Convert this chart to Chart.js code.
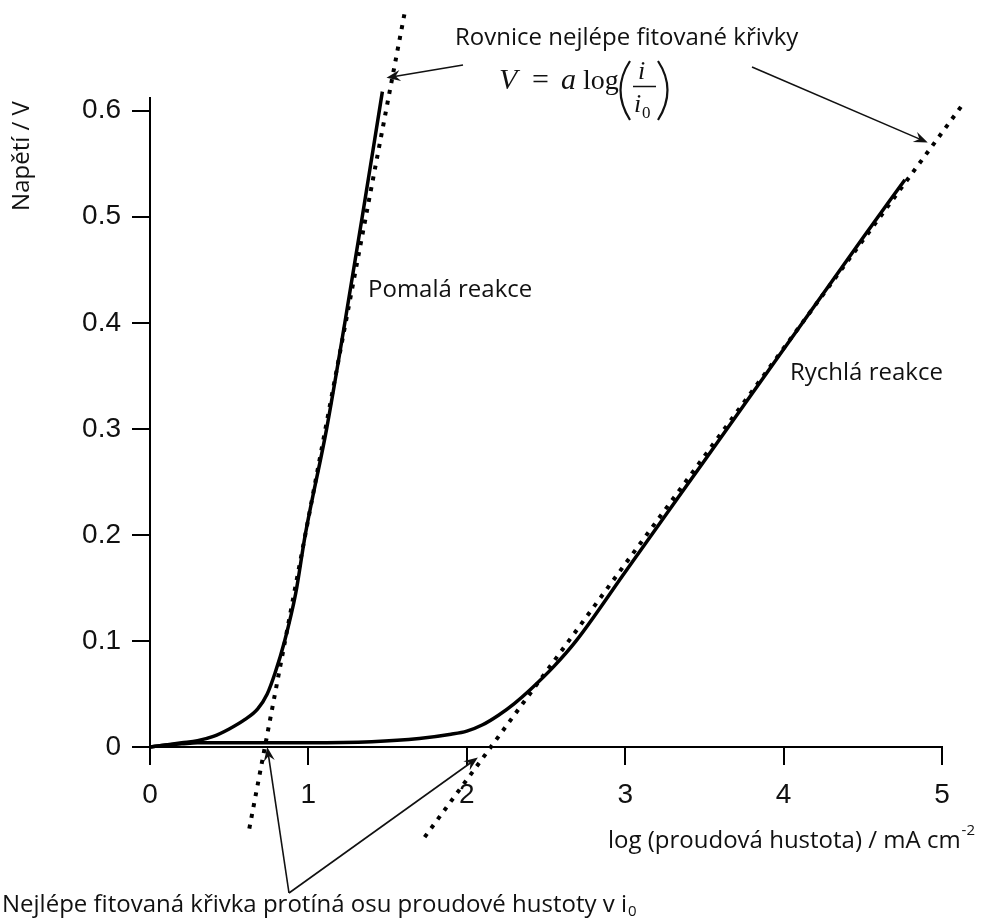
<!DOCTYPE html>
<html>
<head>
<meta charset="utf-8">
<script src="https://cdn.jsdelivr.net/npm/chart.js@4"></script>
<style>
  body { margin: 0; background: #fff; }
  canvas { display: block; }
</style>
</head>
<body>
<canvas id="tafel-chart" width="981" height="922"></canvas>
<script>
// log(current density) vs. voltage
const slowX = [0, 0.1, 0.2, 0.3, 0.4, 0.5, 0.6, 0.68, 0.74, 0.79, 0.85, 0.92, 0.98, 1.115, 1.23, 1.34, 1.467];
const slowV = [0, 0.002, 0.004, 0.006, 0.01, 0.017, 0.026, 0.036, 0.05, 0.07, 0.1, 0.145, 0.2, 0.3, 0.4, 0.5, 0.618];

const fastX = [0, 0.1, 0.2, 0.3, 0.6, 1.0, 1.4, 1.7, 1.9, 2.0, 2.1, 2.2, 2.3, 2.4, 2.55, 2.69, 3.0, 3.5, 4.0, 4.5, 4.766];
const fastV = [0, 0.002, 0.003, 0.004, 0.004, 0.004, 0.005, 0.008, 0.012, 0.015, 0.021, 0.03, 0.041, 0.054, 0.076, 0.1, 0.165, 0.27, 0.375, 0.48, 0.535];

// best fit lines (dotted)
const slowFitX = [0.627, 1.606];
const slowFitV = [-0.077, 0.691];
const fastFitX = [1.734, 5.126];
const fastFitV = [-0.085, 0.605];

const xTicks = [0, 1, 2, 3, 4, 5];
const yTicks = [0, 0.1, 0.2, 0.3, 0.4, 0.5, 0.6];

const TEXT = '#111';
const SANS = '"Open Sans", "Noto Sans", sans-serif';
const SERIF = '"Liberation Serif", "DejaVu Serif", serif';

function toPoints(xs, ys) {
    return xs.map((x, i) => ({ x: x, y: ys[i] }));
}

function arrow(ctx, x1, y1, x2, y2) {
    const a = Math.atan2(y2 - y1, x2 - x1);
    const L = 14, W = 5.5;
    const c = Math.cos(a), s = Math.sin(a);
    ctx.beginPath();
    ctx.moveTo(x1, y1);
    ctx.lineTo(x2 - c * 8, y2 - s * 8);
    ctx.lineWidth = 1.6;
    ctx.stroke();
    ctx.beginPath();
    ctx.moveTo(x2, y2);
    ctx.lineTo(x2 - L * c + W * s, y2 - L * s - W * c);
    ctx.lineTo(x2 - 0.65 * L * c, y2 - 0.65 * L * s);
    ctx.lineTo(x2 - L * c - W * s, y2 - L * s + W * c);
    ctx.closePath();
    ctx.fill();
}

const annotations = {
    id: 'annotations',
    afterDraw(chart) {
        const ctx = chart.ctx;
        const xs = chart.scales.x, ys = chart.scales.y;
        const px = v => xs.getPixelForValue(v);
        const py = v => ys.getPixelForValue(v);

        ctx.save();
        ctx.fillStyle = TEXT;
        ctx.strokeStyle = TEXT;
        ctx.textBaseline = 'middle';

        // y axis title
        ctx.save();
        ctx.translate(22, 156);
        ctx.rotate(-Math.PI / 2);
        ctx.textAlign = 'center';
        ctx.font = '24px ' + SANS;
        ctx.fillText('Napětí / V', 0, 0);
        ctx.restore();

        // x axis title with superscript
        ctx.font = '24px ' + SANS;
        ctx.textAlign = 'left';
        const xt = 'log (proudová hustota) / mA cm';
        ctx.fillText(xt, 608, 841);
        const xw = ctx.measureText(xt).width;
        ctx.font = '15px ' + SANS;
        ctx.fillText('-2', 608 + xw + 1, 831);

        // curve labels
        ctx.font = '24px ' + SANS;
        ctx.fillText('Pomalá reakce', 368, 290);
        ctx.fillText('Rychlá reakce', 790, 373);

        // top note
        ctx.fillText('Rovnice nejlépe fitované křivky', 455, 38);

        // bottom note with subscript
        const bt = 'Nejlépe fitovaná křivka protíná osu proudové hustoty v i';
        ctx.fillText(bt, 2, 905);
        const bw = ctx.measureText(bt).width;
        ctx.font = '15px ' + SANS;
        ctx.fillText('0', 2 + bw + 1, 912);

        // formula V = a log(i / i0)
        ctx.textBaseline = 'alphabetic';
        ctx.font = 'italic 30px ' + SERIF;
        ctx.fillText('V', 499, 89);
        ctx.font = '30px ' + SERIF;
        ctx.fillText('=', 532, 89);
        ctx.font = 'italic 30px ' + SERIF;
        ctx.fillText('a', 561, 89);
        ctx.font = '28px ' + SERIF;
        ctx.fillText('log', 583, 89);
        ctx.lineWidth = 2.2;
        ctx.beginPath();
        ctx.moveTo(630, 61);
        ctx.quadraticCurveTo(611, 90, 630, 120);
        ctx.moveTo(658, 61);
        ctx.quadraticCurveTo(677, 90, 658, 120);
        ctx.stroke();
        ctx.font = 'italic 26px ' + SERIF;
        ctx.fillText('i', 638, 79);
        ctx.fillText('i', 634, 112);
        ctx.font = '17px ' + SERIF;
        ctx.fillText('0', 642, 118);
        ctx.lineWidth = 1.5;
        ctx.beginPath();
        ctx.moveTo(633, 86.5);
        ctx.lineTo(656, 86.5);
        ctx.stroke();

        // arrows
        arrow(ctx, 463, 65, px(1.493), py(0.631));
        arrow(ctx, 752, 67, px(4.91), py(0.57));
        arrow(ctx, 289, 893, px(0.74), py(0.0));
        arrow(ctx, 289, 893, px(2.07), py(-0.01));

        ctx.restore();
    }
};

const tickFont = { family: '"Liberation Sans", Arial, sans-serif', size: 28 };

const ctx = document.getElementById('tafel-chart').getContext('2d');
new Chart(ctx, {
    type: 'line',
    data: {
        datasets: [
            {
                label: 'Pomalá reakce',
                data: toPoints(slowX, slowV),
                borderColor: '#000',
                borderWidth: 3.5,
                pointRadius: 0,
                cubicInterpolationMode: 'monotone',
                clip: false
            },
            {
                label: 'Rychlá reakce',
                data: toPoints(fastX, fastV),
                borderColor: '#000',
                borderWidth: 3.5,
                pointRadius: 0,
                cubicInterpolationMode: 'monotone',
                clip: false
            },
            {
                label: 'Fit pomalá',
                data: toPoints(slowFitX, slowFitV),
                borderColor: '#000',
                borderWidth: 4,
                borderDash: [4, 7],
                pointRadius: 0,
                clip: false
            },
            {
                label: 'Fit rychlá',
                data: toPoints(fastFitX, fastFitV),
                borderColor: '#000',
                borderWidth: 4,
                borderDash: [4, 7],
                pointRadius: 0,
                clip: false
            }
        ]
    },
    options: {
        responsive: false,
        animation: false,
        layout: { padding: { top: 98, right: 39, bottom: 115, left: 0 } },
        plugins: {
            legend: { display: false },
            tooltip: { enabled: false }
        },
        scales: {
            x: {
                type: 'linear',
                min: xTicks[0],
                max: xTicks[xTicks.length - 1],
                afterFit: scale => { scale.height = 60; },
                afterBuildTicks: scale => { scale.ticks = xTicks.map(v => ({ value: v })); },
                ticks: { font: tickFont, color: TEXT, padding: 13, maxRotation: 0 },
                grid: { drawOnChartArea: false, tickLength: 18, color: '#000', lineWidth: 2 },
                border: { color: '#000', width: 2 }
            },
            y: {
                min: 0,
                max: 0.612,
                afterFit: scale => { scale.width = 150; },
                afterBuildTicks: scale => { scale.ticks = yTicks.map(v => ({ value: v })); },
                ticks: {
                    font: tickFont,
                    color: TEXT,
                    padding: 11,
                    callback: v => (v === 0 ? '0' : v.toFixed(1))
                },
                grid: { drawOnChartArea: false, tickLength: 18, color: '#000', lineWidth: 2 },
                border: { color: '#000', width: 2 }
            }
        }
    },
    plugins: [annotations]
});
</script>
</body>
</html>
